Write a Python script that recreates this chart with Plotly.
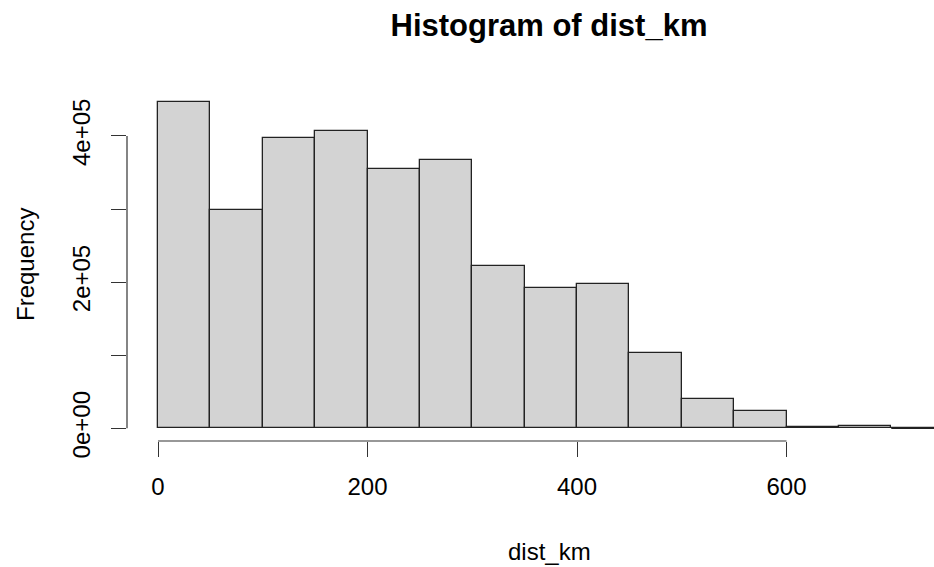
import plotly.graph_objects as go

# Histogram data
bin_starts = [0, 50, 100, 150, 200, 250, 300, 350, 400, 450, 500, 550, 600, 650, 700]
bin_width = 50
counts = [446800, 298200, 397100, 406700, 355100, 367400, 222000, 192300,
          197800, 103400, 40100, 24100, 1500, 3300, 0]

x_tick_vals = [0, 200, 400, 600]
x_tick_text = ["0", "200", "400", "600"]
y_tick_vals = [0, 100000, 200000, 300000, 400000]
y_tick_text = ["0e+00", "", "2e+05", "", "4e+05"]

title_text = "Histogram of dist_km"
x_label = "dist_km"
y_label = "Frequency"

FONT = "Liberation Sans, Arial, sans-serif"

centers = [s + bin_width / 2 for s in bin_starts]

fig = go.Figure()
fig.add_trace(go.Bar(
    x=centers, y=counts, width=[bin_width] * len(counts),
    marker=dict(color="#D3D3D3", line=dict(color="#222222", width=1.3)),
    hoverinfo="x+y", showlegend=False,
))

# zero-count bins drawn as flat outlines (like R's rect of height 0)
for s, c in zip(bin_starts, counts):
    if c == 0:
        fig.add_shape(type="line", xref="x", yref="y", x0=s, x1=s + bin_width,
                      y0=0, y1=0, line=dict(color="#222222", width=1.3))

# R-style axis lines, spanning only the tick range
fig.add_shape(type="line", xref="x", yref="paper", x0=x_tick_vals[0], x1=x_tick_vals[-1],
              y0=0, y1=0, line=dict(color="#333333", width=1.2))
fig.add_shape(type="line", xref="paper", yref="y", x0=0, x1=0,
              y0=y_tick_vals[0], y1=y_tick_vals[-1], line=dict(color="#333333", width=1.2))

fig.update_layout(
    width=934, height=567,
    margin=dict(l=127, r=0, t=89, b=126),
    paper_bgcolor="white", plot_bgcolor="white",
    font=dict(family=FONT, size=24, color="black"),
    title=dict(text="<b>" + title_text + "</b>", x=549 / 934, xref="container", xanchor="center",
               y=1 - 25 / 567, yref="container", yanchor="middle",
               font=dict(family=FONT, size=31, color="black")),
    xaxis=dict(range=[-29.6, 740.8], showgrid=False, zeroline=False, showline=False,
               tickmode="array", tickvals=x_tick_vals, ticktext=x_tick_text,
               ticks="outside", ticklen=15, tickwidth=1.2, tickcolor="#333333",
               ticklabelstandoff=9, tickfont=dict(size=24)),
    yaxis=dict(range=[-17373, 464158], showgrid=False, zeroline=False, showline=False,
               tickmode="array", tickvals=y_tick_vals, ticktext=y_tick_text,
               ticks="outside", ticklen=15, tickwidth=1.2, tickcolor="#333333",
               tickangle=-90, ticklabelstandoff=11, tickfont=dict(size=24)),
    bargap=0,
    annotations=[
        dict(text=x_label, xref="paper", yref="paper", x=(549 - 127) / 807, y=(441 - 551) / 352,
             xanchor="center", yanchor="middle", showarrow=False, font=dict(size=24)),
        dict(text=y_label, xref="paper", yref="paper", x=(25 - 127) / 807, y=0.5,
             xanchor="center", yanchor="middle", textangle=-90, showarrow=False, font=dict(size=24)),
    ],
)

fig.write_html("out.html")
